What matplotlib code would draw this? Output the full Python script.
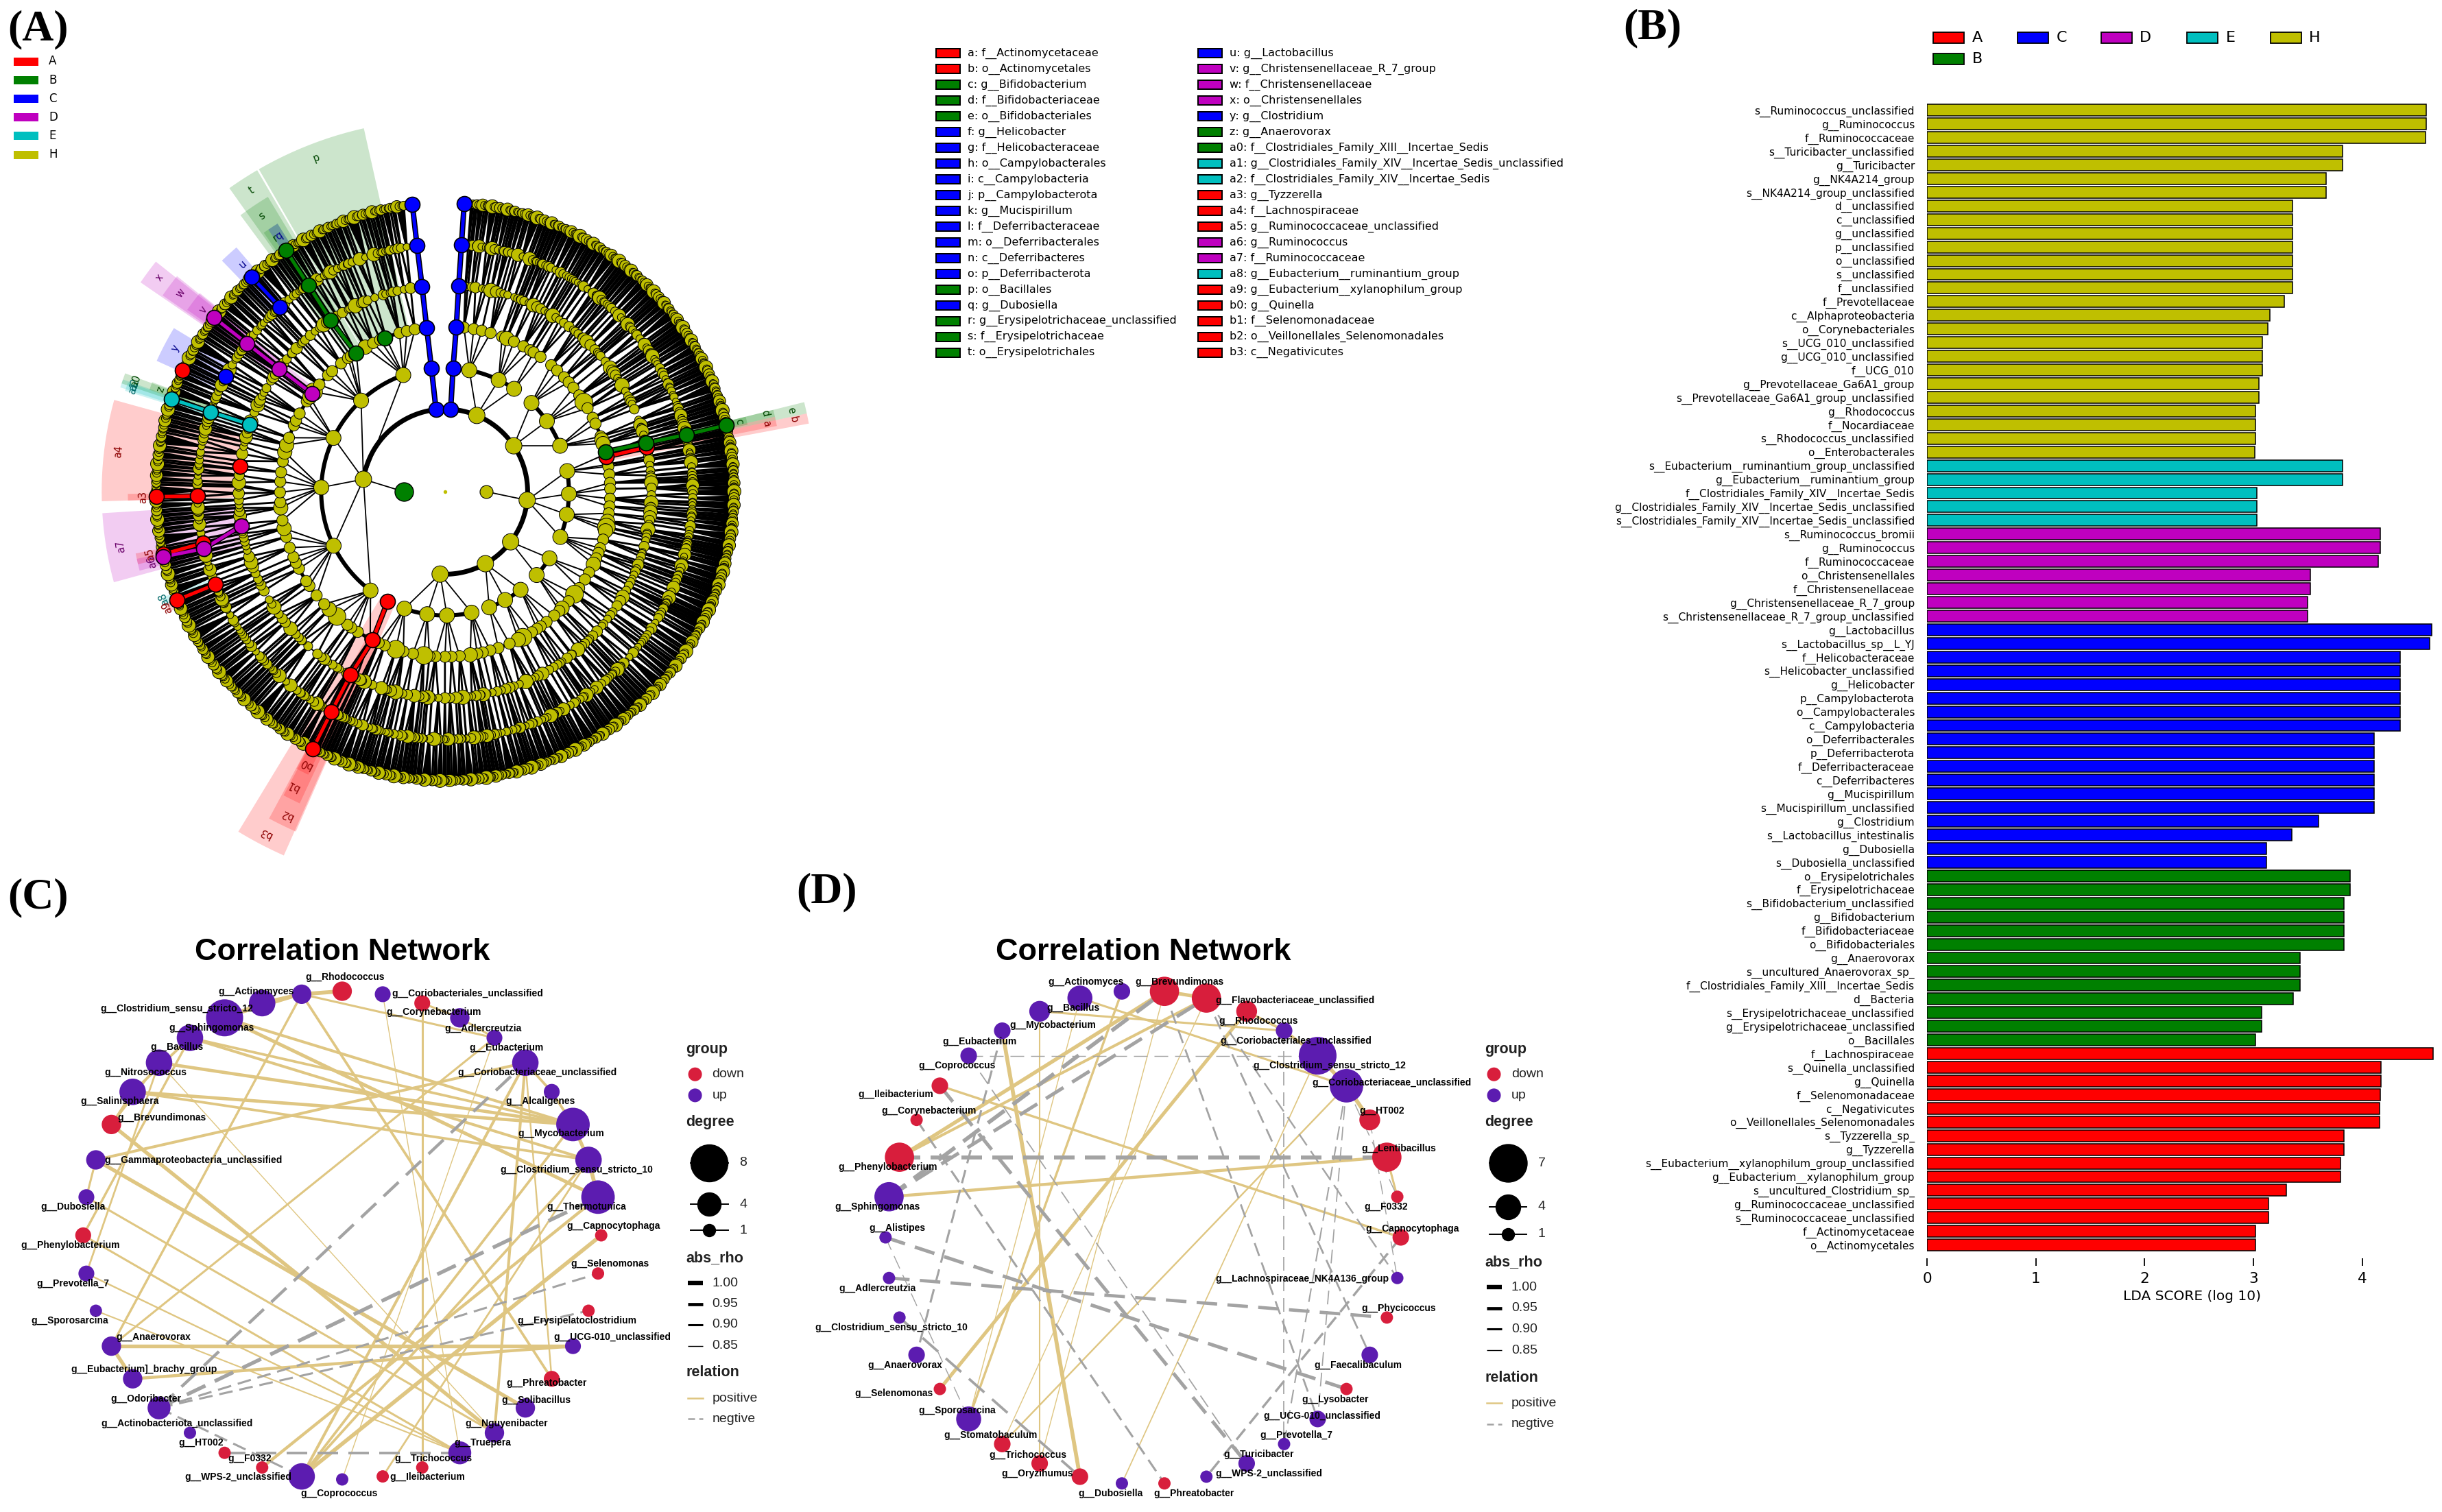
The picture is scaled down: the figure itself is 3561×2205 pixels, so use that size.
import math

import matplotlib
matplotlib.use('Agg')
import matplotlib.pyplot as plt
from matplotlib.collections import LineCollection
from matplotlib.colors import to_rgb
from matplotlib.patches import Polygon, Rectangle

W, H = 3561, 2205

group_names = ['A', 'B', 'C', 'D', 'E', 'H']
group_colors = {'A': '#ff0000', 'B': '#008000', 'C': '#0000ff',
                'D': '#bf00bf', 'E': '#00bfbf', 'H': '#bfbf00'}

# ---- panel B data, top to bottom
lda_names = [
    's__Ruminococcus_unclassified', 'g__Ruminococcus', 'f__Ruminococcaceae', 's__Turicibacter_unclassified',
    'g__Turicibacter', 'g__NK4A214_group', 's__NK4A214_group_unclassified', 'd__unclassified', 'c__unclassified',
    'g__unclassified', 'p__unclassified', 'o__unclassified', 's__unclassified', 'f__unclassified',
    'f__Prevotellaceae', 'c__Alphaproteobacteria', 'o__Corynebacteriales', 's__UCG_010_unclassified',
    'g__UCG_010_unclassified', 'f__UCG_010', 'g__Prevotellaceae_Ga6A1_group',
    's__Prevotellaceae_Ga6A1_group_unclassified', 'g__Rhodococcus', 'f__Nocardiaceae', 's__Rhodococcus_unclassified',
    'o__Enterobacterales',
    's__Eubacterium__ruminantium_group_unclassified', 'g__Eubacterium__ruminantium_group',
    'f__Clostridiales_Family_XIV__Incertae_Sedis', 'g__Clostridiales_Family_XIV__Incertae_Sedis_unclassified',
    's__Clostridiales_Family_XIV__Incertae_Sedis_unclassified',
    's__Ruminococcus_bromii', 'g__Ruminococcus', 'f__Ruminococcaceae', 'o__Christensenellales',
    'f__Christensenellaceae', 'g__Christensenellaceae_R_7_group', 's__Christensenellaceae_R_7_group_unclassified',
    'g__Lactobacillus', 's__Lactobacillus_sp__L_YJ', 'f__Helicobacteraceae', 's__Helicobacter_unclassified',
    'g__Helicobacter', 'p__Campylobacterota', 'o__Campylobacterales', 'c__Campylobacteria', 'o__Deferribacterales',
    'p__Deferribacterota', 'f__Deferribacteraceae', 'c__Deferribacteres', 'g__Mucispirillum',
    's__Mucispirillum_unclassified', 'g__Clostridium', 's__Lactobacillus_intestinalis', 'g__Dubosiella',
    's__Dubosiella_unclassified',
    'o__Erysipelotrichales', 'f__Erysipelotrichaceae', 's__Bifidobacterium_unclassified', 'g__Bifidobacterium',
    'f__Bifidobacteriaceae', 'o__Bifidobacteriales', 'g__Anaerovorax', 's__uncultured_Anaerovorax_sp_',
    'f__Clostridiales_Family_XIII__Incertae_Sedis', 'd__Bacteria', 's__Erysipelotrichaceae_unclassified',
    'g__Erysipelotrichaceae_unclassified', 'o__Bacillales',
    'f__Lachnospiraceae', 's__Quinella_unclassified', 'g__Quinella', 'f__Selenomonadaceae', 'c__Negativicutes',
    'o__Veillonellales_Selenomonadales', 's__Tyzzerella_sp_', 'g__Tyzzerella',
    's__Eubacterium__xylanophilum_group_unclassified', 'g__Eubacterium__xylanophilum_group',
    's__uncultured_Clostridium_sp_', 'g__Ruminococcaceae_unclassified', 's__Ruminococcaceae_unclassified',
    'f__Actinomycetaceae', 'o__Actinomycetales']
lda_scores = [
    4.59, 4.59, 4.58, 3.82, 3.82, 3.67, 3.67, 3.36, 3.36, 3.36, 3.36, 3.36, 3.36, 3.36, 3.285, 3.15, 3.13, 3.08,
    3.08, 3.08, 3.05, 3.05, 3.02, 3.02, 3.02, 3.01,
    3.82, 3.82, 3.03, 3.03, 3.03,
    4.165, 4.165, 4.145, 3.52, 3.52, 3.50, 3.50,
    4.64, 4.62, 4.345, 4.345, 4.345, 4.345, 4.345, 4.345, 4.11, 4.11, 4.11, 4.11, 4.11, 4.11, 3.60, 3.35, 3.12, 3.12,
    3.89, 3.89, 3.83, 3.83, 3.83, 3.83, 3.425, 3.425, 3.425, 3.365, 3.075, 3.075, 3.02,
    4.65, 4.17, 4.17, 4.165, 4.16, 4.16, 3.83, 3.83, 3.80, 3.80, 3.30, 3.14, 3.14, 3.02, 3.02]
lda_groups = ['H'] * 26 + ['E'] * 5 + ['D'] * 7 + ['C'] * 18 + ['B'] * 13 + ['A'] * 15
lda_ticks = [0, 1, 2, 3, 4]

# ---- panel A key
key_col1 = ['a: f__Actinomycetaceae', 'b: o__Actinomycetales', 'c: g__Bifidobacterium', 'd: f__Bifidobacteriaceae',
            'e: o__Bifidobacteriales', 'f: g__Helicobacter', 'g: f__Helicobacteraceae', 'h: o__Campylobacterales',
            'i: c__Campylobacteria', 'j: p__Campylobacterota', 'k: g__Mucispirillum', 'l: f__Deferribacteraceae',
            'm: o__Deferribacterales', 'n: c__Deferribacteres', 'o: p__Deferribacterota', 'p: o__Bacillales',
            'q: g__Dubosiella', 'r: g__Erysipelotrichaceae_unclassified', 's: f__Erysipelotrichaceae',
            't: o__Erysipelotrichales']
key_col1_groups = list('AABBBCCCCCCCCCCBCBBB')
key_col2 = ['u: g__Lactobacillus', 'v: g__Christensenellaceae_R_7_group', 'w: f__Christensenellaceae',
            'x: o__Christensenellales', 'y: g__Clostridium', 'z: g__Anaerovorax',
            'a0: f__Clostridiales_Family_XIII__Incertae_Sedis',
            'a1: g__Clostridiales_Family_XIV__Incertae_Sedis_unclassified',
            'a2: f__Clostridiales_Family_XIV__Incertae_Sedis', 'a3: g__Tyzzerella', 'a4: f__Lachnospiraceae',
            'a5: g__Ruminococcaceae_unclassified', 'a6: g__Ruminococcus', 'a7: f__Ruminococcaceae',
            'a8: g__Eubacterium__ruminantium_group', 'a9: g__Eubacterium__xylanophilum_group', 'b0: g__Quinella',
            'b1: f__Selenomonadaceae', 'b2: o__Veillonellales_Selenomonadales', 'b3: c__Negativicutes']
key_col2_groups = list('CDDDCB') + list('BEEAAADDEAAAAA')

# background tree: phylum leaf span, then classes, each a list of orders,
# each order a digit string giving genera per family
tree_spans = [(5, 38), (38, 75), (75, 118), (118, 137), (137, 162), (162, 205), (-155, -8)]
tree_clades = [
    [['212', '131', '2', '3112'], ['21', '112', '31', '1221', '12'], ['1', '213']],
    [['2131', '11', '321', '12'], ['3', '1212', '21', '113'], ['211', '14', '31', '1', '122']],
    [['1213', '21', '1', '312'], ['112', '4', '2211', '13'], ['21', '131', '12', '2'], ['3112', '21', '121', '1', '214']],
    [['21', '113', '2'], ['131', '12', '21', '2']],
    [['213', '11', '32', '1'], ['121', '4', '12'], ['2113', '21']],
    [['312', '1', '21', '1131'], ['212', '13', '2', '311'], ['1', '124', '21'], ['2121', '13', '31', '112']],
    [['213', '121', '3', '11', '241', '12', '21'], ['1312', '2', '112', '31', '21', '4', '113', '12', '211'],
     ['12', '312', '1', '2211', '13', '21', '131', '2'], ['311', '12', '41', '1', '2112', '21', '13'],
     ['2', '1211', '31', '12', '212', '1', '3', '112'], ['21', '131', '2', '13', '1121', '3', '22']],
]
genus_species = [2, 1, 1, 3, 1, 2, 4, 1, 1, 2, 3, 1, 2, 1, 1, 3, 2, 1, 5, 1, 2, 2, 1, 1]
species_radius = [5.2, 6, 5.2, 7, 6, 5.2, 9, 6, 5.2, 6.5, 5.2, 10, 6, 7, 5.2, 8, 6, 5.2, 6, 9.5, 5.2, 6.5, 6, 7.5]

# coloured lineages: group, first ring, angle clockwise from the top per ring
lineages = [
    ('C', 1, [-6.3, -6.3, -6.4, -6.4, -6.5, -6.5]),
    ('C', 1, [3.9, 3.7, 3.9, 3.8, 3.8, 3.8]),
    ('A', 3, [77.8, 77.6]),
    ('B', 3, [76.0, 76.4, 76.7, 76.7]),
    ('D', 3, [-53.6, -53.4, -53.2, -53.0]),
    ('B', 3, [-21.4]),
    ('B', 3, [-32.8, -33.7, -33.5, -33.4]),
    ('C', 5, [-41.8, -42.0]),
    ('C', 5, [-62.2]),
    ('A', 6, [-65.2]),
    ('E', 4, [-71.0, -71.2, -71.3]),
    ('A', 4, [-83.0]),
    ('A', 5, [-91.0, -91.0]),
    ('A', 5, [-102.0, -102.5]),
    ('D', 4, [-99.5, -103.3, -103.0]),
    ('A', 5, [-112.0, -112.0]),
    ('A', 2, [207.6, 206.0, 207.3, 207.3, 207.2]),
]

# highlighted clade wedges: label, group, from angle, to angle, inner r, outer r, label r, label angle
clade_wedges = [
    ('p', 'B', -30.0, -12.6, 288, 655, 629, -21.1), ('t', 'B', -35.4, -30.3, 291, 655, 630, -32.7),
    ('s', 'B', -36.5, -31.0, 364, 605, 582, -33.6), ('r', 'B', -35.0, -32.0, 439, 556, 536, -33.8),
    ('q', 'C', -34.0, -32.0, 508, 556, 536, -33.0), ('u', 'C', -44.0, -40.5, 436, 565, 535, -41.6),
    ('x', 'D', -55.5, -51.5, 292, 650, 628, -53.1), ('w', 'D', -55.2, -51.2, 364, 605, 581, -53.1),
    ('v', 'D', -54.8, -51.0, 437, 555, 532, -53.0), ('y', 'C', -65.6, -58.9, 435, 557, 537, -62.0),
    ('a2', 'E', -72.2, -70.8, 363, 600, 578, -71.0), ('a0', 'B', -71.5, -69.7, 363, 600, 578, -70.3),
    ('a1', 'E', -72.5, -71.0, 435, 590, 578, -71.6), ('z', 'B', -71.0, -69.5, 435, 550, 532, -70.2),
    ('a4', 'A', -91.6, -74.5, 362, 604, 579, -83.0), ('a3', 'A', -91.6, -90.4, 434, 558, 531, -91.1),
    ('a7', 'D', -105.3, -93.6, 362, 604, 578, -99.6), ('a5', 'A', -103.3, -101.3, 434, 555, 530, -101.9),
    ('a6', 'D', -104.5, -102.3, 434, 555, 530, -103.5), ('a8', 'E', -112.3, -110.5, 435, 530, 530, -110.8),
    ('a9', 'A', -113.5, -111.8, 435, 530, 530, -112.5), ('b3', 'A', 203.9, 211.3, 218, 700, 678, 207.7),
    ('b2', 'A', 203.7, 208.3, 293, 653, 632, 206.1), ('b1', 'A', 205.0, 208.0, 364, 605, 582, 207.3),
    ('b0', 'A', 205.8, 208.2, 437, 553, 537, 207.1), ('e', 'B', 76.0, 77.8, 289, 651, 625, 76.8),
    ('b', 'A', 77.8, 79.4, 289, 651, 626, 78.3), ('d', 'B', 76.0, 77.2, 362, 595, 580, 76.2),
    ('a', 'A', 77.2, 78.8, 362, 595, 578, 78.0), ('c', 'B', 76.0, 77.5, 435, 545, 531, 76.6),
]

# ---- panel C network
c_names = ['g__Rhodococcus', 'g__Coriobacteriales_unclassified', 'g__Corynebacterium', 'g__Adlercreutzia',
           'g__Eubacterium', 'g__Coriobacteriaceae_unclassified', 'g__Alcaligenes', 'g__Mycobacterium',
           'g__Clostridium_sensu_stricto_10', 'g__Thermotunica', 'g__Capnocytophaga', 'g__Selenomonas',
           'g__Erysipelatoclostridium', 'g__UCG-010_unclassified', 'g__Phreatobacter', 'g__Solibacillus',
           'g__Nguyenibacter', 'g__Truepera', 'g__Trichococcus', 'g__Ileibacterium', 'g__Coprococcus',
           'g__WPS-2_unclassified', 'g__F0332', 'g__HT002', 'g__Actinobacteriota_unclassified', 'g__Odoribacter',
           'g__Eubacterium]_brachy_group', 'g__Anaerovorax', 'g__Sporosarcina', 'g__Prevotella_7',
           'g__Phenylobacterium', 'g__Dubosiella', 'g__Gammaproteobacteria_unclassified', 'g__Brevundimonas',
           'g__Salinisphaera', 'g__Nitrosococcus', 'g__Bacillus', 'g__Sphingomonas',
           'g__Clostridium_sensu_stricto_12', 'g__Actinomyces']
c_groups = ['d', 'u', 'd', 'u', 'u', 'u', 'u', 'u', 'u', 'u', 'd', 'd', 'd', 'u', 'd', 'u', 'u', 'u', 'd', 'd',
            'u', 'u', 'd', 'd', 'u', 'u', 'u', 'u', 'u', 'u', 'd', 'u', 'u', 'd', 'u', 'u', 'u', 'u', 'u', 'u']
c_degree = [3, 2, 2, 3, 2, 5, 2, 7, 5, 7, 1, 1, 1, 2, 2, 3, 3, 4, 1, 1,
            1, 5, 1, 1, 1, 4, 3, 3, 1, 2, 2, 2, 3, 3, 5, 5, 5, 8, 5, 3]
c_pos_edges = [(39, 0, .98), (38, 39, .98), (37, 38, .95), (37, 39, .92), (39, 14, .92), (37, 7, .93), (36, 7, .92),
               (35, 7, .95), (34, 7, .95), (37, 9, .96), (36, 8, .93), (34, 8, .92), (39, 4, .90), (2, 18, .90),
               (1, 17, .85), (4, 27, .90), (32, 5, .93), (33, 16, .97), (32, 15, .97), (30, 17, .90), (29, 17, .88),
               (31, 16, .90), (28, 17, .87), (27, 13, .97), (26, 27, .97), (26, 13, .94), (32, 31, .90), (30, 36, .91),
               (29, 35, .89), (39, 27, .91), (35, 16, .85), (21, 10, .98), (21, 5, .93), (21, 7, .92), (21, 8, .92),
               (22, 9, .94), (20, 4, .85), (19, 8, .89), (16, 5, .93), (5, 6, .92), (6, 7, .92), (7, 8, .96),
               (8, 9, .98), (4, 3, .90), (3, 2, .90), (34, 33, .90), (35, 33, .90), (36, 34, .92), (5, 14, .88)]
c_neg_edges = [(25, 5, .94), (25, 9, .97), (25, 11, .90), (25, 12, .90), (23, 17, .92), (25, 21, .90)]

# ---- panel D network
d_names = ['g__Brevundimonas', 'g__Flavobacteriaceae_unclassified', 'g__Rhodococcus',
           'g__Coriobacteriales_unclassified', 'g__Clostridium_sensu_stricto_12', 'g__Coriobacteriaceae_unclassified',
           'g__HT002', 'g__Lentibacillus', 'g__F0332', 'g__Capnocytophaga', 'g__Lachnospiraceae_NK4A136_group',
           'g__Phycicoccus', 'g__Faecalibaculum', 'g__Lysobacter', 'g__UCG-010_unclassified', 'g__Prevotella_7',
           'g__Turicibacter', 'g__WPS-2_unclassified', 'g__Phreatobacter', 'g__Dubosiella', 'g__Oryzihumus',
           'g__Trichococcus', 'g__Stomatobaculum', 'g__Sporosarcina', 'g__Selenomonas', 'g__Anaerovorax',
           'g__Clostridium_sensu_stricto_10', 'g__Adlercreutzia', 'g__Alistipes', 'g__Sphingomonas',
           'g__Phenylobacterium', 'g__Corynebacterium', 'g__Ileibacterium', 'g__Coprococcus', 'g__Eubacterium',
           'g__Mycobacterium', 'g__Bacillus', 'g__Actinomyces']
d_groups = ['d', 'd', 'd', 'u', 'u', 'u', 'd', 'd', 'd', 'd', 'u', 'd', 'u', 'd', 'u', 'u', 'u', 'u', 'd', 'u',
            'd', 'd', 'd', 'u', 'd', 'u', 'u', 'u', 'u', 'u', 'd', 'd', 'd', 'u', 'u', 'u', 'u', 'u']
d_degree = [5, 5, 3, 2, 7, 6, 3, 5, 1, 2, 1, 1, 2, 1, 2, 1, 2, 1, 1, 1,
            2, 2, 2, 4, 1, 2, 1, 1, 1, 5, 5, 1, 2, 2, 2, 3, 4, 2]
d_pos_edges = [(0, 1, .96), (30, 0, .97), (30, 1, .93), (29, 7, .94), (32, 9, .91), (34, 20, .98), (2, 24, .96),
               (36, 5, .90), (35, 3, .90), (2, 3, .92), (3, 4, .94), (4, 5, .97), (5, 6, .98), (7, 8, .90),
               (5, 22, .88), (4, 19, .86), (37, 23, .91), (0, 21, .85), (1, 22, .85), (35, 21, .87), (36, 23, .85)]
d_neg_edges = [(30, 7, .98), (29, 1, .96), (29, 0, .98), (28, 13, .96), (27, 11, .95), (32, 16, .96), (33, 4, .85),
               (3, 15, .86), (34, 25, .90), (31, 18, .90), (1, 12, .89), (0, 14, .89), (1, 10, .88), (9, 17, .91),
               (5, 15, .87), (5, 14, .86), (5, 8, .85), (6, 10, .85), (28, 23, .85), (26, 20, .92), (33, 16, .86)]

rho_ticks = [1.00, 0.95, 0.90, 0.85]

# ---- layout: label anchors, in pixels of the crops the picture was read from
c_label_xy = [(686, 246), (930, 287), (862, 333), (960, 373), (1007, 420), (1068, 481), (1074, 553), (1115, 633),
              (1147, 722), (1166, 813), (1220, 861), (1213, 955), (1147, 1095), (1218, 1136), (1087, 1250),
              (1066, 1291), (1007, 1349), (960, 1397), (862, 1436), (850, 1482), (675, 1523), (473, 1482), (497, 1436),
              (400, 1397), (352, 1349), (290, 1288), (286, 1216), (305, 1136), (139, 1095), (145, 1003), (140, 908),
              (145, 814), (384, 698), (322, 594), (238, 553), (290, 481), (352, 419), (421, 371), (351, 323), (510, 282)]
d_label_xy = [(758, 258), (978, 304), (908, 355), (980, 403), (1044, 465), (1162, 506), (1144, 576), (1176, 669),
              (1151, 813), (1202, 868), (992, 991), (1176, 1065), (1098, 1205), (1054, 1290), (1030, 1331), (980, 1378),
              (909, 1426), (928, 1473), (785, 1523), (626, 1523), (487, 1473), (469, 1427), (398, 1378), (334, 1317),
              (214, 1275), (235, 1205), (209, 1112), (182, 1015), (220, 867), (182, 814), (202, 716), (280, 576),
              (217, 535), (334, 465), (377, 405), (516, 365), (555, 322), (580, 258)]

CLA_X, CLA_Y = 649, 717
ZOOM_A = 0.829
RING_STEP = 60.2

PX = 0.72  # points per pixel at dpi 100

fig = plt.figure(figsize=(W / 100, H / 100), dpi=100, facecolor='white')
ax = fig.add_axes([0, 0, 1, 1])
ax.set_xlim(0, W)
ax.set_ylim(H, 0)
ax.axis('off')


def polar(r, theta):
    t = math.radians(theta)
    return CLA_X + r * math.sin(t), CLA_Y - r * math.cos(t)


def ring(level):
    return (level + 1) * RING_STEP


def area(radius):
    return (2 * radius * PX) ** 2


def darker(color, k=0.55):
    return tuple(c * k for c in to_rgb(color))


# ---- panel A cladogram
for label, grp, a0, a1, r0, r1, lr, la in clade_wedges:
    steps = [a0 + (a1 - a0) * i / 12 for i in range(13)]
    pts = [polar(r1 * ZOOM_A, t) for t in steps] + [polar(r0 * ZOOM_A, t) for t in reversed(steps)]
    ax.add_patch(Polygon(pts, closed=True, facecolor=group_colors[grp], alpha=0.2, edgecolor='none', zorder=1))
    lx, ly = polar(lr * ZOOM_A, la)
    ax.text(lx, ly, label, fontsize=10.5, color=darker(group_colors[grp]), rotation=-la,
            ha='center', va='center', zorder=8)

tree_lines = {i: [] for i in range(1, 7)}
tree_arcs = {i: [] for i in range(1, 7)}
tree_nodes = {i: [] for i in range(1, 7)}
genus_i = 0


def add_arc(level, angles):
    if len(angles) < 2:
        return
    a0, a1 = min(angles), max(angles)
    n = max(2, int((a1 - a0) / 1.5) + 1)
    tree_arcs[level].append([polar(ring(level), a0 + (a1 - a0) * i / (n - 1)) for i in range(n)])


def add_edges(level, parent, children):
    for c in children:
        tree_lines[level].append([polar(ring(level - 1), parent), polar(ring(level), c)])
    add_arc(level, children)


phylum_angles = []
sp_i = 0
for (span0, span1), classes in zip(tree_spans, tree_clades):
    built = []
    total = 0
    for cl in classes:
        cl_b = []
        for od in cl:
            od_b = []
            for digit in od:
                genera = []
                for _ in range(int(digit)):
                    genera.append(genus_species[genus_i % len(genus_species)])
                    genus_i += 1
                total += sum(genera)
                od_b.append(genera)
            cl_b.append(od_b)
        built.append(cl_b)
    step = (span1 - span0) / total
    idx = 0
    class_ang = []
    for cl_b in built:
        order_ang = []
        for od_b in cl_b:
            fam_ang = []
            for fam_b in od_b:
                gen_ang = []
                for n_sp in fam_b:
                    sp_ang = [span0 + (idx + k + 0.5) * step for k in range(n_sp)]
                    idx += n_sp
                    g = sum(sp_ang) / n_sp
                    gen_ang.append(g)
                    add_edges(6, g, sp_ang)
                    for a in sp_ang:
                        tree_nodes[6].append((a, species_radius[sp_i % len(species_radius)]))
                        sp_i += 1
                    tree_nodes[5].append((g, species_radius[(sp_i * 5 + 3) % len(species_radius)]))
                f = sum(gen_ang) / len(gen_ang)
                fam_ang.append(f)
                add_edges(5, f, gen_ang)
                tree_nodes[4].append((f, species_radius[(sp_i * 7 + 1) % len(species_radius)] + 0.5))
            o = (fam_ang[0] + fam_ang[-1]) / 2
            order_ang.append(o)
            add_edges(4, o, fam_ang)
            tree_nodes[3].append((o, species_radius[(sp_i * 3 + 2) % len(species_radius)] + 3))
        c = (order_ang[0] + order_ang[-1]) / 2
        class_ang.append(c)
        add_edges(3, c, order_ang)
        tree_nodes[2].append((c, 11))
    p = (class_ang[0] + class_ang[-1]) / 2
    phylum_angles.append(p)
    add_edges(2, p, class_ang)
    tree_nodes[1].append((p, 12))

ordered_phyla = sorted(phylum_angles + [l[2][0] for l in lineages[:2]])
add_arc(1, ordered_phyla)
# the two domains only link directly to one phylum each
tree_lines[1].append([polar(ring(0), -90), polar(ring(1), phylum_angles[6])])
tree_lines[1].append([polar(ring(0), 90), polar(ring(1), phylum_angles[2])])

line_widths = {1: 1.8, 2: 1.8, 3: 2.0, 4: 2.8, 5: 3.2, 6: 3.4}
arc_widths = {1: 7, 2: 6, 3: 5, 4: 2, 5: 1, 6: 0.6}
for level in range(1, 7):
    ax.add_collection(LineCollection(tree_lines[level], colors='black', linewidths=line_widths[level] * PX, zorder=2))
    if tree_arcs[level]:
        ax.add_collection(LineCollection(tree_arcs[level], colors='black', linewidths=arc_widths[level] * PX, zorder=2,
                                         capstyle='round'))

for level in range(6, 0, -1):
    xy = [polar(ring(level), a) for a, _ in tree_nodes[level]]
    sizes = [area(r) for _, r in tree_nodes[level]]
    ax.scatter([p[0] for p in xy], [p[1] for p in xy], s=sizes, c=group_colors['H'],
               edgecolors='black', linewidths=0.7, zorder=3 + (6 - level) * 0.01)

# coloured lineages on top
for grp, first, angles in lineages:
    pts = [polar(ring(first + i), a) for i, a in enumerate(angles)]
    if len(pts) > 1:
        ax.plot([p[0] for p in pts], [p[1] for p in pts], color='black', lw=8 * PX, zorder=4, solid_capstyle='butt')
        ax.plot([p[0] for p in pts], [p[1] for p in pts], color=group_colors[grp], lw=5 * PX, zorder=4.1,
                solid_capstyle='butt')
    ax.scatter([p[0] for p in pts], [p[1] for p in pts], s=area(11), c=group_colors[grp], edgecolors='black',
               linewidths=1.2, zorder=4.2)

# domains and root
ax.scatter(*polar(ring(0), -90), s=area(13.5), c=group_colors['B'], edgecolors='black', linewidths=1, zorder=5)
ax.scatter(*polar(ring(0), 90), s=area(9.5), c=group_colors['H'], edgecolors='black', linewidths=0.8, zorder=5)
ax.scatter(CLA_X, CLA_Y, s=area(2), c=group_colors['H'], zorder=5)

# panel A group legend
for i, g in enumerate(group_names):
    y = 89.5 + i * 27.2
    ax.add_patch(Rectangle((20, y - 6), 36, 12, facecolor=group_colors[g], edgecolor='none', zorder=3))
    ax.text(71, y, g, fontsize=12, va='center', ha='left')

# panel A key
for col_x, names, grps in [(1365, key_col1, key_col1_groups), (1747, key_col2, key_col2_groups)]:
    for i, (txt, g) in enumerate(zip(names, grps)):
        y = 77.9 + i * 22.97
        ax.add_patch(Rectangle((col_x, y - 6.5), 35, 13, facecolor=group_colors[g], edgecolor='black', lw=2 * PX))
        ax.text(col_x + 46, y, txt, fontsize=11.5, va='center', ha='left')

# ---- panel B bars
bar_left, bar_top, bar_right, bar_bot = 2810, 140, 3553, 1835
UNIT = 158.7
bx = fig.add_axes([bar_left / W, 1 - bar_bot / H, (bar_right - bar_left) / W, (bar_bot - bar_top) / H])
bx.set_xlim(0, (bar_right - bar_left) / UNIT)
BAR0, BAR_STEP = 160.7, 19.94
bx.set_ylim((bar_bot - BAR0) / BAR_STEP, (bar_top - BAR0) / BAR_STEP)
bx.barh(range(len(lda_scores)), lda_scores, height=0.85, color=[group_colors[g] for g in lda_groups],
        edgecolor='black', linewidth=1.1)
bx.set_yticks(range(len(lda_names)))
bx.set_yticklabels(lda_names, fontsize=11.1)
bx.tick_params(axis='y', length=0, pad=18 * PX)
bx.set_xticks(lda_ticks)
bx.tick_params(axis='x', length=8 * PX * 1.4, width=1.3, labelsize=15.5, pad=6)
for side in bx.spines:
    bx.spines[side].set_visible(False)
bx.set_facecolor('none')
ax.text(3196, 1890, 'LDA SCORE (log 10)', fontsize=14.5, ha='center', va='center')

# panel B legend
for g, x, y in [('A', 2819, 55), ('C', 2942, 55), ('D', 3064, 55), ('E', 3189, 55), ('H', 3311, 55), ('B', 2819, 86)]:
    ax.add_patch(Rectangle((x, y - 8), 45, 16, facecolor=group_colors[g], edgecolor='black', lw=1.8 * PX))
    ax.text(x + 64, y, g, fontsize=16, va='center', ha='center')


# ---- panels C and D networks
NET_FONT = 'Liberation Sans'
POS_COLOR, NEG_COLOR = '#dfc682', '#a3a3a3'
NODE_COLORS = {'d': '#d81e3c', 'u': '#5c1cb0'}


def rho_width(rho):
    return (1.4 + (rho - 0.85) / 0.15 * 5.0) * PX


def draw_network(names, groups, degrees, pos_edges, neg_edges, label_xy, crop, centre, radii, first_angle, rmap, title):
    x0, y0, sx, sy = crop
    n = len(names)
    cx, cy = centre
    xy = []
    for i in range(n):
        t = math.radians(first_angle + i * 360.0 / n)
        xy.append((cx + radii[0] * math.sin(t), cy - radii[1] * math.cos(t)))
    for a, b, rho in pos_edges:
        ax.plot([xy[a][0], xy[b][0]], [xy[a][1], xy[b][1]], color=POS_COLOR, lw=rho_width(rho), zorder=2,
                solid_capstyle='butt')
    for a, b, rho in neg_edges:
        w = rho_width(rho) / PX
        dash_px, gap_px = (30, 15) if w > 3.5 else (20, 10)
        ax.plot([xy[a][0], xy[b][0]], [xy[a][1], xy[b][1]], color=NEG_COLOR, lw=w * PX, zorder=2,
                dashes=(dash_px / w, gap_px / w), dash_capstyle='butt')
    ax.scatter([p[0] for p in xy], [p[1] for p in xy], s=[area(rmap(d)) for d in degrees],
               c=[NODE_COLORS[g] for g in groups], edgecolors='none', zorder=3)
    for name, (lx, ly) in zip(names, label_xy):
        ax.text(x0 + lx * sx, y0 + ly * sy, name, fontsize=10, fontweight='bold', family=NET_FONT,
                ha='center', va='center', zorder=4)
    ax.text(cx, 1388, title, fontsize=32.5, fontweight='bold', family=NET_FONT, ha='center', va='center')


C_CROP = (0, 1280, 1150 / 1568, 925 / 1568)
D_CROP = (1140, 1280, 1200 / 1568, 925 / 1568)
c_rmap = lambda d: 9 + (d - 1) * 18.0 / 7
d_rmap = lambda d: 9 + (d - 1) * 18.5 / 6
draw_network(c_names, c_groups, c_degree, c_pos_edges, c_neg_edges, c_label_xy, C_CROP, (499, 1801.5), (377.7, 356),
             0, c_rmap, 'Correlation Network')
draw_network(d_names, d_groups, d_degree, d_pos_edges, d_neg_edges, d_label_xy, D_CROP, (1667, 1804.5), (375.7, 360),
             180.0 / 38, d_rmap, 'Correlation Network')


def net_legend(crop, head_x, dot_x, text_x, ys, deg_x, deg_rows, deg_text_x, deg_span, rho_x, rho_ys, rho_text_x):
    x0, y0, sx, sy = crop
    X = lambda v: x0 + v * sx
    Y = lambda v: y0 + v * sy
    for word, v in zip(['group', 'degree', 'abs_rho', 'relation'], ys['heads']):
        ax.text(X(head_x), Y(v), word, fontsize=15.5, fontweight='bold', family=NET_FONT, ha='left', va='center',
                color='#222222')
    for word, g, v in zip(['down', 'up'], ['d', 'u'], ys['group']):
        ax.scatter(X(dot_x), Y(v), s=area(10), c=NODE_COLORS[g], edgecolors='none')
        ax.text(X(text_x), Y(v), word, fontsize=14, family=NET_FONT, ha='left', va='center', color='#222222')
    for deg, v, r in deg_rows:
        ax.plot([X(deg_span[0]), X(deg_span[1])], [Y(v), Y(v)], color='black', lw=1.4)
        ax.scatter(X(deg_x), Y(v), s=area(r), c='black', zorder=3)
        ax.text(X(deg_text_x), Y(v), str(deg), fontsize=14, family=NET_FONT, ha='center', va='center',
                color='#222222')
    for tick, v in zip(rho_ticks, rho_ys):
        ax.plot([X(rho_x[0]), X(rho_x[1])], [Y(v), Y(v)], color='black', lw=rho_width(tick), solid_capstyle='butt')
        ax.text(X(rho_text_x), Y(v), '%.2f' % tick, fontsize=14, family=NET_FONT, ha='left', va='center',
                color='#222222')
    ax.plot([X(rho_x[0]), X(rho_x[1])], [Y(ys['rel'][0])] * 2, color=POS_COLOR, lw=1.8)
    ax.text(X(rho_text_x), Y(ys['rel'][0]), 'positive', fontsize=14, family=NET_FONT, ha='left', va='center',
            color='#222222')
    ax.plot([X(rho_x[0]), X(rho_x[1])], [Y(ys['rel'][1])] * 2, color=NEG_COLOR, lw=1.8, dashes=(4, 2.5))
    ax.text(X(rho_text_x), Y(ys['rel'][1]), 'negtive', fontsize=14, family=NET_FONT, ha='left', va='center',
            color='#222222')


net_legend(C_CROP, 1364, 1382, 1416, {'heads': [424, 604, 940, 1223], 'group': [486, 538], 'rel': [1287, 1338]},
           1410, [(8, 705, 27), (4, 807, 17), (1, 872, 9)], 1478, (1373, 1448), (1368, 1398),
           [1002, 1054, 1105, 1157], 1416)
net_legend(D_CROP, 1340, 1357, 1390, {'heads': [424, 605, 950, 1236], 'group': [486, 538], 'rel': [1299, 1351]},
           1384, [(7, 706, 27.5), (4, 813, 18), (1, 881, 9)], 1448, (1349, 1419), (1343, 1372),
           [1012, 1064, 1116, 1168], 1390)

# panel letters
for letter, x, y in [('(A)', 55, 43), ('(B)', 2410, 41), ('(C)', 55, 1309), ('(D)', 1205, 1301)]:
    ax.text(x, y, letter, fontsize=46, fontweight='bold', family='Liberation Serif', ha='center', va='center')

fig.savefig('out.png', dpi=100)
